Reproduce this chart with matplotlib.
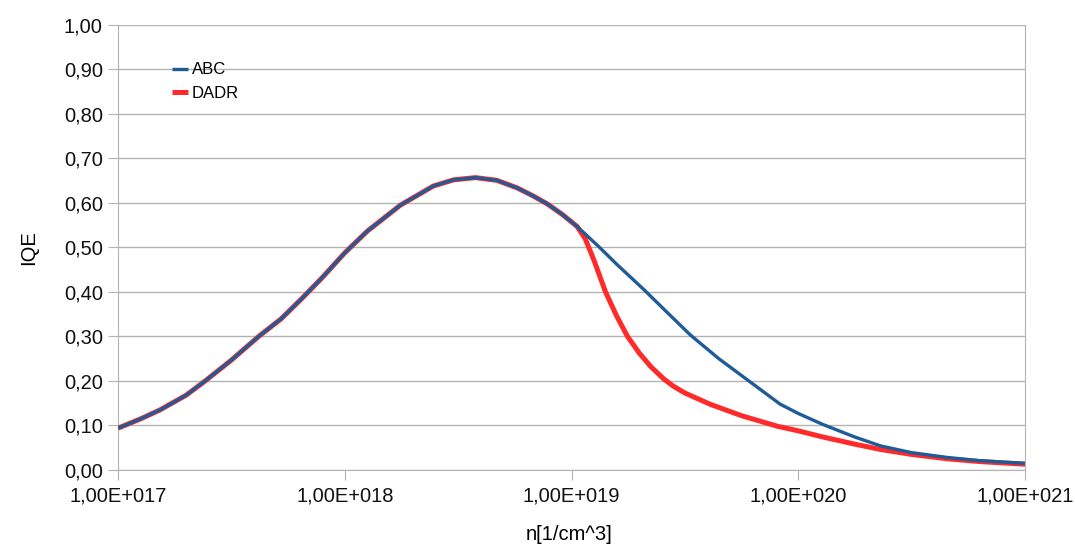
import numpy as np
import matplotlib
matplotlib.use("Agg")
import matplotlib.pyplot as plt

# log10(n) positions and IQE values
abc_logn = [17.0, 17.1, 17.185, 17.3, 17.384, 17.5, 17.62, 17.72, 17.81, 17.9,
            18.0, 18.1, 18.245, 18.39, 18.48, 18.576, 18.67, 18.76, 18.83,
            18.893, 18.96, 19.025, 19.12, 19.2, 19.32, 19.42, 19.525, 19.65,
            19.777, 19.92, 20.0, 20.11, 20.25, 20.364, 20.5, 20.66, 20.8, 21.0]
abc_iqe = [0.094, 0.115, 0.135, 0.168, 0.200, 0.247, 0.300, 0.340, 0.385, 0.432,
           0.488, 0.537, 0.595, 0.638, 0.652, 0.657, 0.651, 0.634, 0.616,
           0.598, 0.574, 0.547, 0.502, 0.462, 0.405, 0.355, 0.303, 0.250,
           0.202, 0.148, 0.127, 0.102, 0.074, 0.054, 0.039, 0.028, 0.021, 0.015]

dadr_logn = [17.0, 17.1, 17.185, 17.3, 17.384, 17.5, 17.62, 17.72, 17.81, 17.9,
             18.0, 18.1, 18.245, 18.39, 18.48, 18.576, 18.67, 18.76, 18.83,
             18.893, 18.96, 19.025, 19.06, 19.1, 19.15, 19.2, 19.247, 19.3,
             19.35, 19.406, 19.45, 19.5, 19.61, 19.75, 19.91, 20.0, 20.11,
             20.25, 20.364, 20.5, 20.66, 20.8, 21.0]
dadr_iqe = [0.094, 0.115, 0.135, 0.168, 0.200, 0.247, 0.300, 0.340, 0.385, 0.432,
            0.488, 0.537, 0.595, 0.638, 0.652, 0.657, 0.651, 0.634, 0.616,
            0.598, 0.574, 0.547, 0.520, 0.470, 0.400, 0.345, 0.300, 0.262,
            0.232, 0.205, 0.188, 0.173, 0.148, 0.122, 0.098, 0.088, 0.074,
            0.058, 0.046, 0.035, 0.025, 0.019, 0.013]

x_ticks = [1e17, 1e18, 1e19, 1e20, 1e21]
x_labels = ["1,00E+017", "1,00E+018", "1,00E+019", "1,00E+020", "1,00E+021"]
y_ticks = [i / 10 for i in range(11)]
y_labels = [("%.2f" % v).replace(".", ",") for v in y_ticks]

plt.rcParams['font.family'] = ['Liberation Sans', 'DejaVu Sans']

fig = plt.figure(figsize=(10.75, 5.49), dpi=100)
ax = fig.add_axes([0.1098, 0.1439, 0.8437, 0.8106])

abc_n = np.power(10.0, abc_logn)
dadr_n = np.power(10.0, dadr_logn)

ax.plot(dadr_n, dadr_iqe, color='#ff2a2a', lw=3.6, label='DADR', zorder=3,
        solid_capstyle='butt', solid_joinstyle='round')
ax.plot(abc_n, abc_iqe, color='#1f5c97', lw=2.4, label='ABC', zorder=4,
        solid_capstyle='butt', solid_joinstyle='round')

ax.set_xscale('log')
ax.set_xlim(1e17, 1e21)
ax.set_ylim(0, 1.0)
ax.set_xticks(x_ticks)
ax.set_xticklabels(x_labels)
ax.minorticks_off()
ax.set_yticks(y_ticks)
ax.set_yticklabels(y_labels)

ax.grid(axis='y', color='#b3b3b3', lw=1)
ax.set_axisbelow(True)
for side in ['left', 'bottom', 'right']:
    ax.spines[side].set_color('#b3b3b3')
ax.spines['top'].set_visible(False)
ax.tick_params(axis='both', colors='#b3b3b3', labelcolor='#111111',
               labelsize=14.5, length=7, direction='out')
ax.tick_params(axis='y', pad=4)
ax.tick_params(axis='x', pad=5)

ax.set_xlabel('n[1/cm^3]', fontsize=14.5)
ax.xaxis.set_label_coords(0.497, -0.124)
ax.set_ylabel('IQE', fontsize=14.5)
ax.yaxis.set_label_coords(-0.088, 0.5)

handles, labels = ax.get_legend_handles_labels()
ax.legend(handles[::-1], labels[::-1], loc='upper left',
          bbox_to_anchor=(0.052, 0.931), borderaxespad=0, frameon=False,
          fontsize=12, handlelength=0.96, handletextpad=0.25, labelspacing=0.5)

fig.savefig('out.png', dpi=100)
